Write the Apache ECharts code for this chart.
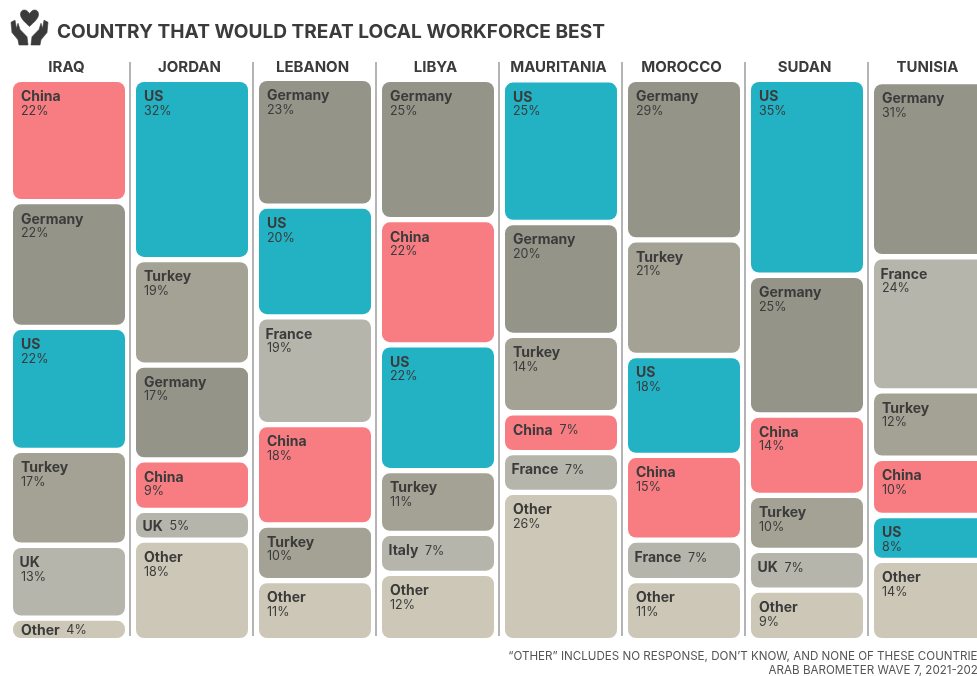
<!DOCTYPE html>
<html>
<head>
<meta charset="utf-8">
<style>html,body{margin:0;padding:0;background:#fff;overflow:hidden}#chart{width:977px;height:676px}</style>
<script src="https://cdn.jsdelivr.net/npm/echarts@6/dist/echarts.min.js"></script>
</head>
<body>
<div id="chart"></div>
<script>
const countries = ['IRAQ','JORDAN','LEBANON','LIBYA','MAURITANIA','MOROCCO','SUDAN','TUNISIA'];
const iraqNames = ['China','Germany','US','Turkey','UK','Other'];
const iraqValues = [21.8,22.4,21.9,16.9,13.0,4.0];
const jordanNames = ['US','Turkey','Germany','China','UK','Other'];
const jordanValues = [32.1,18.8,16.9,9.0,5.3,17.9];
const lebanonNames = ['Germany','US','France','China','Turkey','Other'];
const lebanonValues = [22.8,19.7,19.2,17.9,9.9,10.7];
const libyaNames = ['Germany','China','US','Turkey','Italy','Other'];
const libyaValues = [25.0,22.3,22.4,11.2,7.1,12.0];
const mauritaniaNames = ['US','Germany','Turkey','China','France','Other'];
const mauritaniaValues = [25.4,20.1,13.8,7.1,7.1,26.4];
const moroccoNames = ['Germany','Turkey','US','China','France','Other'];
const moroccoValues = [28.6,20.6,17.8,15.1,7.2,10.7];
const sudanNames = ['US','Germany','China','Turkey','UK','Other'];
const sudanValues = [34.9,24.9,14.3,9.8,7.1,9.0];
const tunisiaNames = ['Germany','France','Turkey','China','US','Other'];
const tunisiaValues = [31.2,23.9,12.0,10.2,8.0,14.3];
const allNames = [iraqNames,jordanNames,lebanonNames,libyaNames,mauritaniaNames,moroccoNames,sudanNames,tunisiaNames];
const allValues = [iraqValues,jordanValues,lebanonValues,libyaValues,mauritaniaValues,moroccoValues,sudanValues,tunisiaValues];
const colors = {China:'#F77D82',US:'#23B1C4',Germany:'#949488',Turkey:'#A4A294',UK:'#B5B5AC',France:'#B5B5AC',Italy:'#B5B5AC',Other:'#CCC7B6'};

const FONT = 'Inter, "Open Sans", sans-serif';
const INK = '#3b3b3b';
const ICON_PATH = 'M29.5 15C27 9.5 20 10 20.5 16C21 20 26 24 29.5 27C33 24 38 20 38.5 16C39 10 32 9.5 29.5 15Z M11 23L15 21L16.5 29L18 24L20 30L27 37L28 45L19 45L18 40L12 33Z M48 23L44 21L42.5 29L41 24L39 30L32 37L31 45L40 45L41 40L47 33Z';

const rows = [];
allValues.forEach((vals, c) => {
  const total = vals.reduce((a, b) => a + b, 0);
  let top = total;
  vals.forEach((v, i) => {
    rows.push([c, top, top - v, allNames[c][i], v]);
    top -= v;
  });
});

function renderItem(params, api) {
  const c = api.value(0);
  const p0 = api.coord([c, api.value(1)]);
  const p1 = api.coord([c, api.value(2)]);
  const name = rows[params.dataIndex][3];
  const v = rows[params.dataIndex][4];
  const w = 112, gap = 5.3;
  const x = p0[0] - w / 2, y = p0[1], h = p1[1] - p0[1] - gap;
  const inline = v < 7.5;
  const nudge = (name === 'UK' || name === 'France' || name === 'Italy') ? -1.5 : 0;
  const pct = Math.round(v) + '%';
  const rich = {
    n: {fontFamily: FONT, fontSize: 14, fontWeight: 700, fill: INK, lineHeight: 14},
    p: {fontFamily: FONT, fontSize: 12.5, fontWeight: 400, fill: INK, lineHeight: 14}
  };
  return {
    type: 'group',
    children: [
      {type: 'rect', shape: {x, y, width: w, height: h, r: 8}, style: {fill: colors[name]}},
      {type: 'text', style: inline
        ? {x: x + 8 + nudge, y: y + Math.min(h / 2 + 1, 15), text: '{n|' + name + '}  {p|' + pct + '}', rich, verticalAlign: 'middle', align: 'left'}
        : {x: x + 8 + nudge, y: y + 8, text: '{n|' + name + '}', rich, verticalAlign: 'top', align: 'left'}},
      ...(inline ? [] : [{type: 'text', style: {x: x + 8, y: y + 22, text: '{p|' + pct + '}', rich, verticalAlign: 'top', align: 'left'}}])
    ]
  };
}

const chart = echarts.init(document.getElementById('chart'), null, {renderer: 'canvas'});
chart.setOption({
  animation: false,
  backgroundColor: '#fff',
  title: {
    text: 'COUNTRY THAT WOULD TREAT LOCAL WORKFORCE BEST',
    left: 52, top: 18,
    textStyle: {fontFamily: FONT, fontSize: 19.1, fontWeight: 700, color: INK}
  },
  grid: [
    {left: 7.5, top: 76.4, width: 984, height: 566.9, outerBoundsMode: 'none', containLabel: false},
    {left: 6.3, top: 62, width: 984, height: 574, outerBoundsMode: 'none', containLabel: false}
  ],
  xAxis: [
    {type: 'category', data: countries, gridIndex: 0, position: 'top',
     axisLine: {show: false}, axisTick: {show: false},
     axisLabel: {interval: 0, margin: 1, padding: [0, 5, 0, 0], fontFamily: FONT, fontSize: 15, fontWeight: 700, color: INK}},
    {type: 'category', data: countries, gridIndex: 1,
     axisLine: {show: false}, axisTick: {show: false}, axisLabel: {show: false},
     splitLine: {show: true, interval: 0, showMinLine: false, lineStyle: {color: '#9b9b9b', width: 1.5}}}
  ],
  yAxis: [
    {type: 'value', gridIndex: 0, min: 0, max: 101, show: false},
    {type: 'value', gridIndex: 1, min: 0, max: 1, show: false}
  ],
  series: [
    {type: 'custom', xAxisIndex: 0, yAxisIndex: 0, clip: false, renderItem, data: rows.map(r => r.slice(0, 3)), encode: {x: 0, y: [1, 2]}},
    {type: 'custom', coordinateSystem: 'none', silent: true, data: [[0]],
     renderItem: () => ({type: 'path', shape: {pathData: ICON_PATH, layout: 'cover', x: 11, y: 10, width: 37, height: 35}, style: {fill: INK, stroke: INK, lineWidth: 0.6, lineJoin: 'round'}})}
  ],
  graphic: [
    {type: 'text', style: {x: 985, y: 657, text: '\u201COTHER\u201D INCLUDES NO RESPONSE, DON\u2019T KNOW, AND NONE OF THESE COUNTRIES', fontFamily: FONT, fontSize: 11.6, fill: '#555', align: 'right', verticalAlign: 'middle'}},
    {type: 'text', style: {x: 985, y: 671, text: 'ARAB BAROMETER WAVE 7, 2021-2022', fontFamily: FONT, fontSize: 11.6, fill: '#555', align: 'right', verticalAlign: 'middle'}}
  ]
});
</script>
</body>
</html>
